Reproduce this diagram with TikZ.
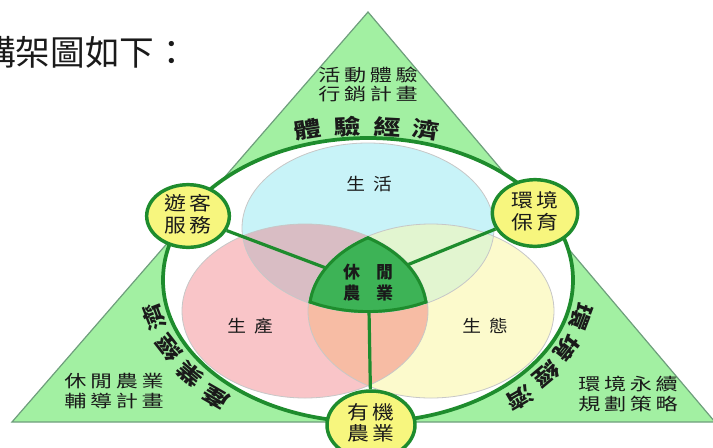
\documentclass[tikz,border=0pt]{standalone}
\usepackage{fontspec}
\setmainfont{Noto Sans CJK TC}
\usetikzlibrary{shapes.geometric}
\definecolor{trif}{HTML}{A2F0A2}
\definecolor{tril}{HTML}{6E9E7C}
\definecolor{ringc}{HTML}{1E8C2D}
\definecolor{bluef}{HTML}{C8F3F8}
\definecolor{pinkf}{HTML}{F9C5C8}
\definecolor{yelf}{HTML}{FCFACC}
\definecolor{bpf}{HTML}{D9BDC4}
\definecolor{pyf}{HTML}{F7BCA4}
\definecolor{byf}{HTML}{E2F5D0}
\definecolor{ctrf}{HTML}{3DB356}
\definecolor{smallf}{HTML}{F7F67E}
\definecolor{ink}{HTML}{1A1A1A}
\newcommand\stk[3]{\scalebox{#1}[1]{\begin{tabular}{@{}c@{}}#2\\#3\end{tabular}}}
\begin{document}
\begin{tikzpicture}[x=0.75pt,y=-0.75pt,
 lbl/.style={inner sep=0pt,text=ink},
 smallnode/.style={ellipse,draw=ringc,line width=2.6pt,fill=smallf,inner sep=0pt,text=ink,font=\fontsize{14.25pt}{14.25pt}\selectfont},
 spoke/.style={draw=ringc,line width=2.4pt},
 ringtxt/.style={inner sep=0pt,text=ink,font=\bfseries\fontsize{18pt}{18pt}\selectfont},
 venn/.style={draw=black!22,line width=0.6pt},
 plan/.style={lbl,font=\fontsize{12.75pt}{12.5pt}\selectfont},
 circlbl/.style={lbl,font=\fontsize{12.75pt}{12.75pt}\selectfont}]
\useasboundingbox (0,0) rectangle (713,447);

% triangle
\coordinate (tL) at (12,422);
\coordinate (tT) at (368,12);
\coordinate (tR) at (715,422);
\filldraw[fill=trif,draw=tril,line width=0.9pt] (tL) -- (tT) -- (tR) -- cycle;

\def\ringE{(368,280) ellipse [x radius=205, y radius=142]}
\def\pinkE{(305,311) ellipse [x radius=123, y radius=87]}
\def\yelE{(431,311) ellipse [x radius=123, y radius=87]}
\def\bluE{(368,228) ellipse [x radius=126, y radius=85]}

\fill[white] \ringE;
\fill[pinkf] \pinkE;
\fill[yelf] \yelE;
\fill[bluef] \bluE;
\begin{scope}
  \clip \pinkE;
  \fill[pyf] \yelE;
  \fill[bpf] \bluE;
\end{scope}
\begin{scope}
  \clip \yelE;
  \fill[byf] \bluE;
\end{scope}
\draw[venn] \pinkE;
\draw[venn] \yelE;
\draw[venn] \bluE;

\draw[ringc,line width=2.8pt] \ringE;

% small nodes
\node[smallnode,minimum width=62pt,minimum height=47pt] (guest) at (188,216) {\stk{1.15}{遊\,客}{服\,務}};
\node[smallnode,minimum width=64pt,minimum height=50pt] (env) at (535,213) {\stk{1.15}{環\,境}{保\,育}};
\node[smallnode,minimum width=66pt,minimum height=51pt] (org) at (371,425) {\stk{1.15}{有\,機}{農\,業}};

% spokes
\coordinate (cL) at (326,268);
\coordinate (cR) at (407,265);
\coordinate (cB) at (369,310);
\draw[spoke] (guest) -- (cL);
\draw[spoke] (env) -- (cR);
\draw[spoke] (org) -- (cB);

% center region
\begin{scope}
  \clip \pinkE;
  \clip \yelE;
  \clip \bluE;
  \fill[ctrf] \bluE;
  \draw[ringc,line width=4.4pt] \pinkE;
  \draw[ringc,line width=4.4pt] \yelE;
  \draw[ringc,line width=4.4pt] \bluE;
\end{scope}
\node[lbl,font=\bfseries\fontsize{12.75pt}{15pt}\selectfont] (core) at (368,285) {\stk{1}{休\hspace{12pt}閒}{農\hspace{12pt}業}};

% circle labels
\node[circlbl] (life) at (369,184) {\scalebox{1.1}[1]{生\hspace{5.5pt}活}};
\node[circlbl] (prod) at (250,326) {\scalebox{1.1}[1]{生\hspace{5.5pt}產}};
\node[circlbl] (eco) at (485,326) {\scalebox{1.1}[1]{生\hspace{5.5pt}態}};

% plans
\node[plan] (topplan) at (368,86) {\stk{1.3}{活\,動\,體\,驗}{行\,銷\,計\,畫}};
\node[plan] (leftplan) at (114,393) {\stk{1.3}{休\,閒\,農\,業}{輔\,導\,計\,畫}};
\node[plan] (rightplan) at (628,396) {\stk{1.3}{環\,境\,永\,續}{規\,劃\,策\,略}};

% title
\node[lbl,anchor=west,font=\fontsize{26pt}{26pt}\selectfont] (title) at (-19,52) {構架圖如下：};

% ring texts
\foreach \x/\y/\r/\c [count=\i] in {308/130/9/體,347/127/3/驗,387/127/-3/經,426/130/-9/濟,
  216/398/150/產,190/374/140/業,169/348/128/經,154/317/111/濟,
  581/317/-111/環,567/348/-128/境,546/374/-140/經,520/398/-150/濟}
  \node[ringtxt,rotate=\r] (rt\i) at (\x,\y) {\scalebox{1.12}[0.88]{\c}};
\end{tikzpicture}
\end{document}
